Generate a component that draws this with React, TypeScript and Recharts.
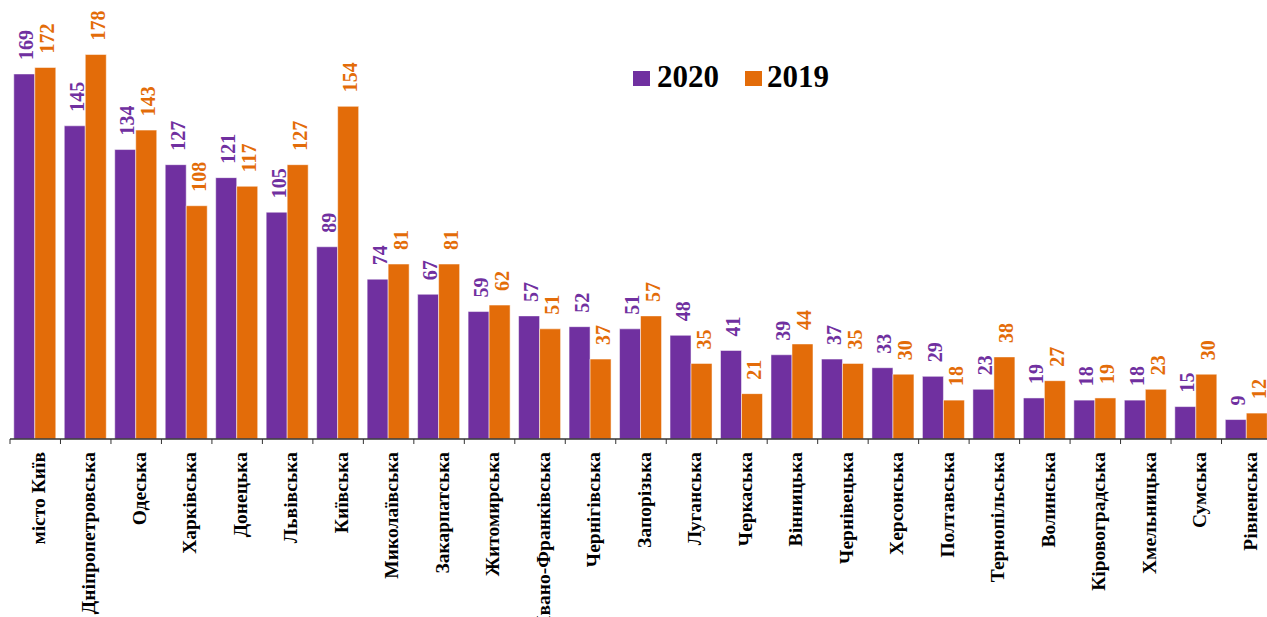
import React from 'react';
import { BarChart, Bar, XAxis, YAxis, LabelList } from 'recharts';

const regions = [
  'місто Київ', 'Дніпропетровська', 'Одеська', 'Харківська', 'Донецька',
  'Львівська', 'Київська', 'Миколаївська', 'Закарпатська', 'Житомирська',
  'Івано-Франківська', 'Чернігівська', 'Запорізька', 'Луганська', 'Черкаська',
  'Вінницька', 'Чернівецька', 'Херсонська', 'Полтавська', 'Тернопільська',
  'Волинська', 'Кіровоградська', 'Хмельницька', 'Сумська', 'Рівненська',
];
const values2020 = [169, 145, 134, 127, 121, 105, 89, 74, 67, 59, 57, 52, 51, 48, 41, 39, 37, 33, 29, 23, 19, 18, 18, 15, 9];
const values2019 = [172, 178, 143, 108, 117, 127, 154, 81, 81, 62, 51, 37, 57, 35, 21, 44, 35, 30, 18, 38, 27, 19, 23, 30, 12];
const seriesNames = ['2020', '2019'];

const PURPLE = '#7030A0';
const ORANGE = '#E36C09';
const FONT = '"Liberation Serif", "Times New Roman", serif';

const VIEW_W = 1267;
const WIDTH = 1272; // plot runs a little past the right edge, like the original
const HEIGHT = 617;
const MARGIN = { top: 7, right: 0, left: 10, bottom: 0 };
const STEP = (WIDTH - MARGIN.left - MARGIN.right) / regions.length;

const data = regions.map((name, i) => ({ name, y2020: values2020[i], y2019: values2019[i] }));

// category labels rotated, tick marks on the category boundaries
const RegionTick = (props: any) => {
  const { x, y, payload } = props;
  const axisY = y - 8;
  const left = x - STEP / 2;
  const ty = axisY + 13;
  return (
    <g>
      <line x1={left} y1={axisY} x2={left} y2={axisY + 5} stroke="#333" strokeWidth={1} />
      <text
        x={x}
        y={ty}
        transform={`rotate(-90, ${x}, ${ty})`}
        textAnchor="end"
        dy="0.5em"
        fontFamily={FONT}
        fontWeight="bold"
        fontSize={19.5}
        fill="#000"
      >
        {payload.value}
      </text>
    </g>
  );
};

const makeValueLabel = (color: string) => (props: any) => {
  const { x, y, width, value } = props;
  const cx = x + width / 2;
  const cy = y - 14;
  return (
    <text
      x={cx}
      y={cy}
      transform={`rotate(-90, ${cx}, ${cy})`}
      textAnchor="start"
      dy="0.45em"
      fontFamily={FONT}
      fontWeight="bold"
      fontSize={20}
      fill={color}
    >
      {value}
    </text>
  );
};

const legendItems = [
  { label: seriesNames[0], color: PURPLE, box: 633, text: 657 },
  { label: seriesNames[1], color: ORANGE, box: 745, text: 767 },
];

export default function App() {
  return (
    <div style={{ position: 'absolute', left: 0, top: 0, width: VIEW_W, height: HEIGHT, overflow: 'hidden', background: '#fff' }}>
      <BarChart width={WIDTH} height={HEIGHT} data={data} margin={MARGIN} barCategoryGap="7.5%" barGap={0}>
        <XAxis
          dataKey="name"
          interval={0}
          height={178}
          tickLine={false}
          tickSize={0}
          tickMargin={8}
          axisLine={{ stroke: '#333', strokeWidth: 1.5 }}
          tick={<RegionTick />}
        />
        <YAxis hide domain={[0, 200]} />
        <Bar dataKey="y2020" name={seriesNames[0]} fill={PURPLE} stroke="#ffffff" strokeOpacity={0.5} isAnimationActive={false}>
          <LabelList dataKey="y2020" content={makeValueLabel(PURPLE)} />
        </Bar>
        <Bar dataKey="y2019" name={seriesNames[1]} fill={ORANGE} stroke="#ffffff" strokeOpacity={0.5} isAnimationActive={false}>
          <LabelList dataKey="y2019" content={makeValueLabel(ORANGE)} />
        </Bar>
      </BarChart>
      {/* legend */}
      {legendItems.map((item) => (
        <React.Fragment key={item.label}>
          <div style={{ position: 'absolute', left: item.box, top: 71, width: 17, height: 15, background: item.color }} />
          <div
            style={{
              position: 'absolute',
              left: item.text,
              top: 61,
              fontFamily: FONT,
              fontWeight: 'bold',
              fontSize: 31,
              lineHeight: 1,
              color: '#000',
            }}
          >
            {item.label}
          </div>
        </React.Fragment>
      ))}
    </div>
  );
}
